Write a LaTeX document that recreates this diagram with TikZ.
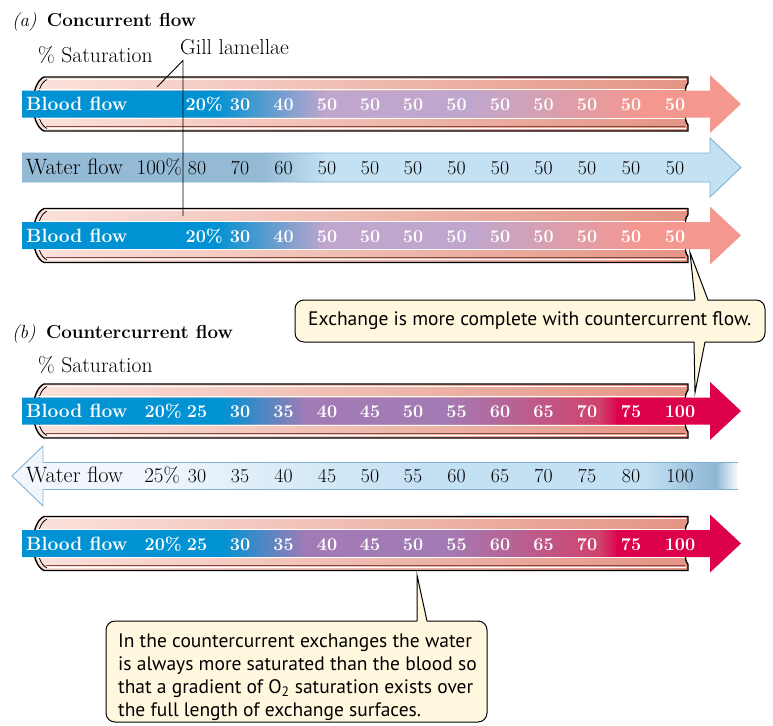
\documentclass[tikz,border=0pt]{standalone}
\usepackage{fontspec}
\newfontfamily\notefont{PT Sans}

\definecolor{bblue}{RGB}{0,146,210}
\definecolor{lav}{RGB}{192,166,205}
\definecolor{salmon}{RGB}{244,151,143}
\definecolor{purp}{RGB}{163,123,180}
\definecolor{rose}{RGB}{208,66,108}
\definecolor{crimson}{RGB}{221,0,76}
\definecolor{steel}{RGB}{148,186,213}
\definecolor{steeldark}{RGB}{140,183,212}
\definecolor{skyl}{RGB}{196,225,243}
\definecolor{pale}{RGB}{240,246,252}
\definecolor{wline}{RGB}{128,178,214}
\definecolor{tubeL}{RGB}{251,226,220}
\definecolor{tubeR}{RGB}{228,148,132}
\definecolor{tubeline}{RGB}{130,75,65}
\definecolor{cream}{RGB}{255,248,222}

% one gill lamella (flattened tube) centred on height #1
\newcommand\gilltube[1]{%
  \shadedraw[left color=tubeL, right color=tubeR, draw=black, line width=1.4]
    (44,#1-27) -- (688,#1-27) -- (688,#1-21)
    .. controls (683,#1-17) and (683,#1+17) .. (688,#1+21)
    -- (688,#1+27) -- (44,#1+27)
    .. controls (37,#1+24) and (33,#1+12) .. (33,#1)
    .. controls (33,#1-12) and (37,#1-24) .. (44,#1-27) -- cycle;
  \draw[white, line width=1] (46,#1-24.6) -- (686,#1-24.6);
  \draw[white, line width=1] (46,#1+24.4) -- (686,#1+24.4);
  \draw[tubeline, line width=0.7] (46,#1+22.3) -- (685,#1+22.3);
  \draw[black, line width=0.8] (47,#1-24.5) .. controls (40,#1-21) and (37.5,#1-11) .. (37.5,#1)
    .. controls (37.5,#1+11) and (40,#1+21) .. (47,#1+24.5);
}

% blood stream arrow centred on height #1, colour segments #2
\newcommand\bloodband[2]{%
  \begin{scope}
    \clip (22,#1-13.5) -- (710,#1-13.5) -- (710,#1-29) -- (741,#1)
      -- (710,#1+29) -- (710,#1+13.5) -- (22,#1+13.5) -- cycle;
    \foreach \xa/\xb/\ca/\cb in {#2}
      {\shade[left color=\ca, right color=\cb] (\xa-0.4,#1-30) rectangle (\xb+0.4,#1+30);}
  \end{scope}
  \draw[white, line width=1.1] (37,#1-14.2) -- (685,#1-14.2) (37,#1+14.2) -- (685,#1+14.2);
}

\begin{document}
\begin{tikzpicture}[x=1pt, y=-1pt,
  every node/.style={inner sep=0pt},
  heading/.style={anchor=base west, font=\fontsize{18.8}{22}\selectfont},
  plain/.style={anchor=base west, font=\fontsize{21.6}{25}\selectfont},
  flowtag/.style={anchor=base west, text=white, font=\fontsize{19.2}{22}\selectfont\bfseries},
  watertag/.style={anchor=base west, font=\fontsize{22.2}{25}\selectfont},
  bnum/.style={anchor=base, text=white, font=\fontsize{18}{21}\selectfont\bfseries},
  bpct/.style={anchor=base east, text=white, font=\fontsize{18}{21}\selectfont\bfseries},
  wnum/.style={anchor=base, font=\fontsize{19.8}{23}\selectfont},
  wpct/.style={anchor=base east, font=\fontsize{21}{23}\selectfont},
  note/.style={anchor=base west, font=\notefont\fontsize{19.5}{23}\selectfont},
  notebox/.style={fill=cream, draw=black, line width=1, rounded corners=9},
  pointer/.style={draw=black, line width=1},
  leader/.style={draw=black, line width=0.9},
  waterline/.style={draw=wline, line width=0.9},
]
\useasboundingbox (0,0) rectangle (773,725);

%% ---------------- (a) concurrent flow ----------------
\node[heading] (ta) at (12,27) {\textit{(a)}\hspace{0.55em}\bfseries Concurrent flow};
\node[plain] (sata) at (38,63) {\% Saturation};
\node[plain] (gill) at (180,55) {Gill lamellae};

% upper lamella with blood
\gilltube{104}
\bloodband{104}{20/215/bblue/bblue, 215/325/bblue/lav, 325/470/lav/lav, 470/640/lav/salmon, 640/745/salmon/salmon}

% water stream
\begin{scope}
  \clip (22,153) -- (710,153) -- (710,138) -- (741,167.5) -- (710,197) -- (710,182) -- (22,182) -- cycle;
  \foreach \xa/\xb/\ca/\cb in {20/262/steel/steel, 262/325/steel/skyl, 325/745/skyl/skyl}
    {\shade[left color=\ca, right color=\cb] (\xa-0.4,130) rectangle (\xb+0.4,205);}
\end{scope}
\draw[waterline] (22,153) -- (710,153) -- (710,138) -- (741,167.5) -- (710,197) -- (710,182) -- (22,182);

% lower lamella with blood
\gilltube{235.5}
\bloodband{235.5}{20/215/bblue/bblue, 215/325/bblue/lav, 325/470/lav/lav, 470/640/lav/salmon, 640/745/salmon/salmon}

% labels and saturation values
\node[flowtag] (ab1) at (26,110.5) {Blood flow};
\node[bpct] (ab1p) at (223,110.5) {20\%};
\foreach \x/\v [count=\i] in {240/30, 283.5/40, 327/50, 370/50, 413/50, 456.5/50, 500/50, 543.5/50, 587/50, 631/50, 675/50}
  \node[bnum] (ab1n\i) at (\x,110.5) {\v};

\node[watertag] (aw) at (26,174.5) {Water flow};
\node[wpct] (awp) at (182,174.5) {100\%};
\foreach \x/\v [count=\i] in {197/80, 240/70, 283.5/60, 327/50, 370/50, 413/50, 456.5/50, 500/50, 543.5/50, 587/50, 631/50, 675/50}
  \node[wnum] (awn\i) at (\x,174.5) {\v};

\node[flowtag] (ab2) at (26,242) {Blood flow};
\node[bpct] (ab2p) at (223,242) {20\%};
\foreach \x/\v [count=\i] in {240/30, 283.5/40, 327/50, 370/50, 413/50, 456.5/50, 500/50, 543.5/50, 587/50, 631/50, 675/50}
  \node[bnum] (ab2n\i) at (\x,242) {\v};

% leaders from the label to both lamellae
\coordinate (gillfoot) at (183,60.5);
\coordinate (lamA) at (157,87);
\coordinate (lamB) at (183,216);
\draw[leader] (lamA) -- (gillfoot) -- (lamB);

%% ---------------- (b) countercurrent flow ----------------
\node[heading] (tb) at (12,338) {\textit{(b)}\hspace{0.55em}\bfseries Countercurrent flow};
\node[plain] (satb) at (38,372) {\% Saturation};

\gilltube{411}
\bloodband{411}{20/222/bblue/bblue, 222/308/bblue/purp, 308/445/purp/purp, 445/600/purp/rose, 600/618/rose/crimson, 618/745/crimson/crimson}

% water stream running the other way
\begin{scope}
  \clip (738,462.5) -- (43,462.5) -- (43,446) -- (12,476) -- (43,506) -- (43,489.5) -- (738,489.5) -- cycle;
  \foreach \xa/\xb/\ca/\cb in {8/150/pale/pale, 150/420/pale/skyl, 420/645/skyl/skyl, 645/716/skyl/steeldark, 716/738/steeldark/white}
    {\shade[left color=\ca, right color=\cb] (\xa-0.4,440) rectangle (\xb+0.4,512);}
\end{scope}
\draw[waterline] (738,462.5) -- (43,462.5) -- (43,446) -- (12,476) -- (43,506) -- (43,489.5) -- (738,489.5);

\gilltube{543.5}
\bloodband{543.5}{20/222/bblue/bblue, 222/308/bblue/purp, 308/445/purp/purp, 445/600/purp/rose, 600/618/rose/crimson, 618/745/crimson/crimson}

\node[flowtag] (bb1) at (26,417.5) {Blood flow};
\node[bpct] (bb1p) at (182,417.5) {20\%};
\foreach \x/\v [count=\i] in {197/25, 240/30, 283.5/35, 327/40, 370/45, 413/50, 456.5/55, 500/60, 543.5/65, 587/70, 631/75, 680/100}
  \node[bnum] (bb1n\i) at (\x,417.5) {\v};

\node[watertag] (bw) at (26,482.5) {Water flow};
\node[wpct] (bwp) at (180,482.5) {25\%};
\foreach \x/\v [count=\i] in {197/30, 240/35, 283.5/40, 327/45, 370/50, 413/55, 456.5/60, 500/65, 543.5/70, 587/75, 631/80, 680/100}
  \node[wnum] (bwn\i) at (\x,482.5) {\v};

\node[flowtag] (bb2) at (26,550) {Blood flow};
\node[bpct] (bb2p) at (182,550) {20\%};
\foreach \x/\v [count=\i] in {197/25, 240/30, 283.5/35, 327/40, 370/45, 413/50, 456.5/55, 500/60, 543.5/65, 587/70, 631/75, 680/100}
  \node[bnum] (bb2n\i) at (\x,550) {\v};

%% ---------------- callouts ----------------
% exchange callout, pointing up to (a) and down to (b)
\path[notebox] (295,300) rectangle (765,342);
\node[note] (n1) at (308,325) {Exchange is more complete with countercurrent flow.};
\coordinate (c1up) at (690,252.5);
\coordinate (c1down) at (695,392.5);
\fill[cream] (695,301.6) -- (c1up) -- (708,301.6) -- cycle;
\draw[pointer] (695,300) -- (c1up) -- (708,300);
\fill[cream] (694,340.4) -- (c1down) -- (705,340.4) -- cycle;
\draw[pointer] (694,342) -- (c1down) -- (705,342);

% gradient callout, pointing up to the lower blood lamella
\path[notebox] (106,621) rectangle (487,722);
\coordinate (c2up) at (417,575);
\fill[cream] (417,622.6) -- (c2up) -- (427,622.6) -- cycle;
\draw[pointer] (417,621) -- (c2up) -- (427,621);
\node[note] (n2a) at (118,647) {In the countercurrent exchanges the water};
\node[note] (n2b) at (118,670) {is always more saturated than the blood so};
\node[note] (n2c) at (118,693) {that a gradient of O\textsubscript{2} saturation exists over};
\node[note] (n2d) at (118,716.5) {the full length of exchange surfaces.};
\end{tikzpicture}
\end{document}
